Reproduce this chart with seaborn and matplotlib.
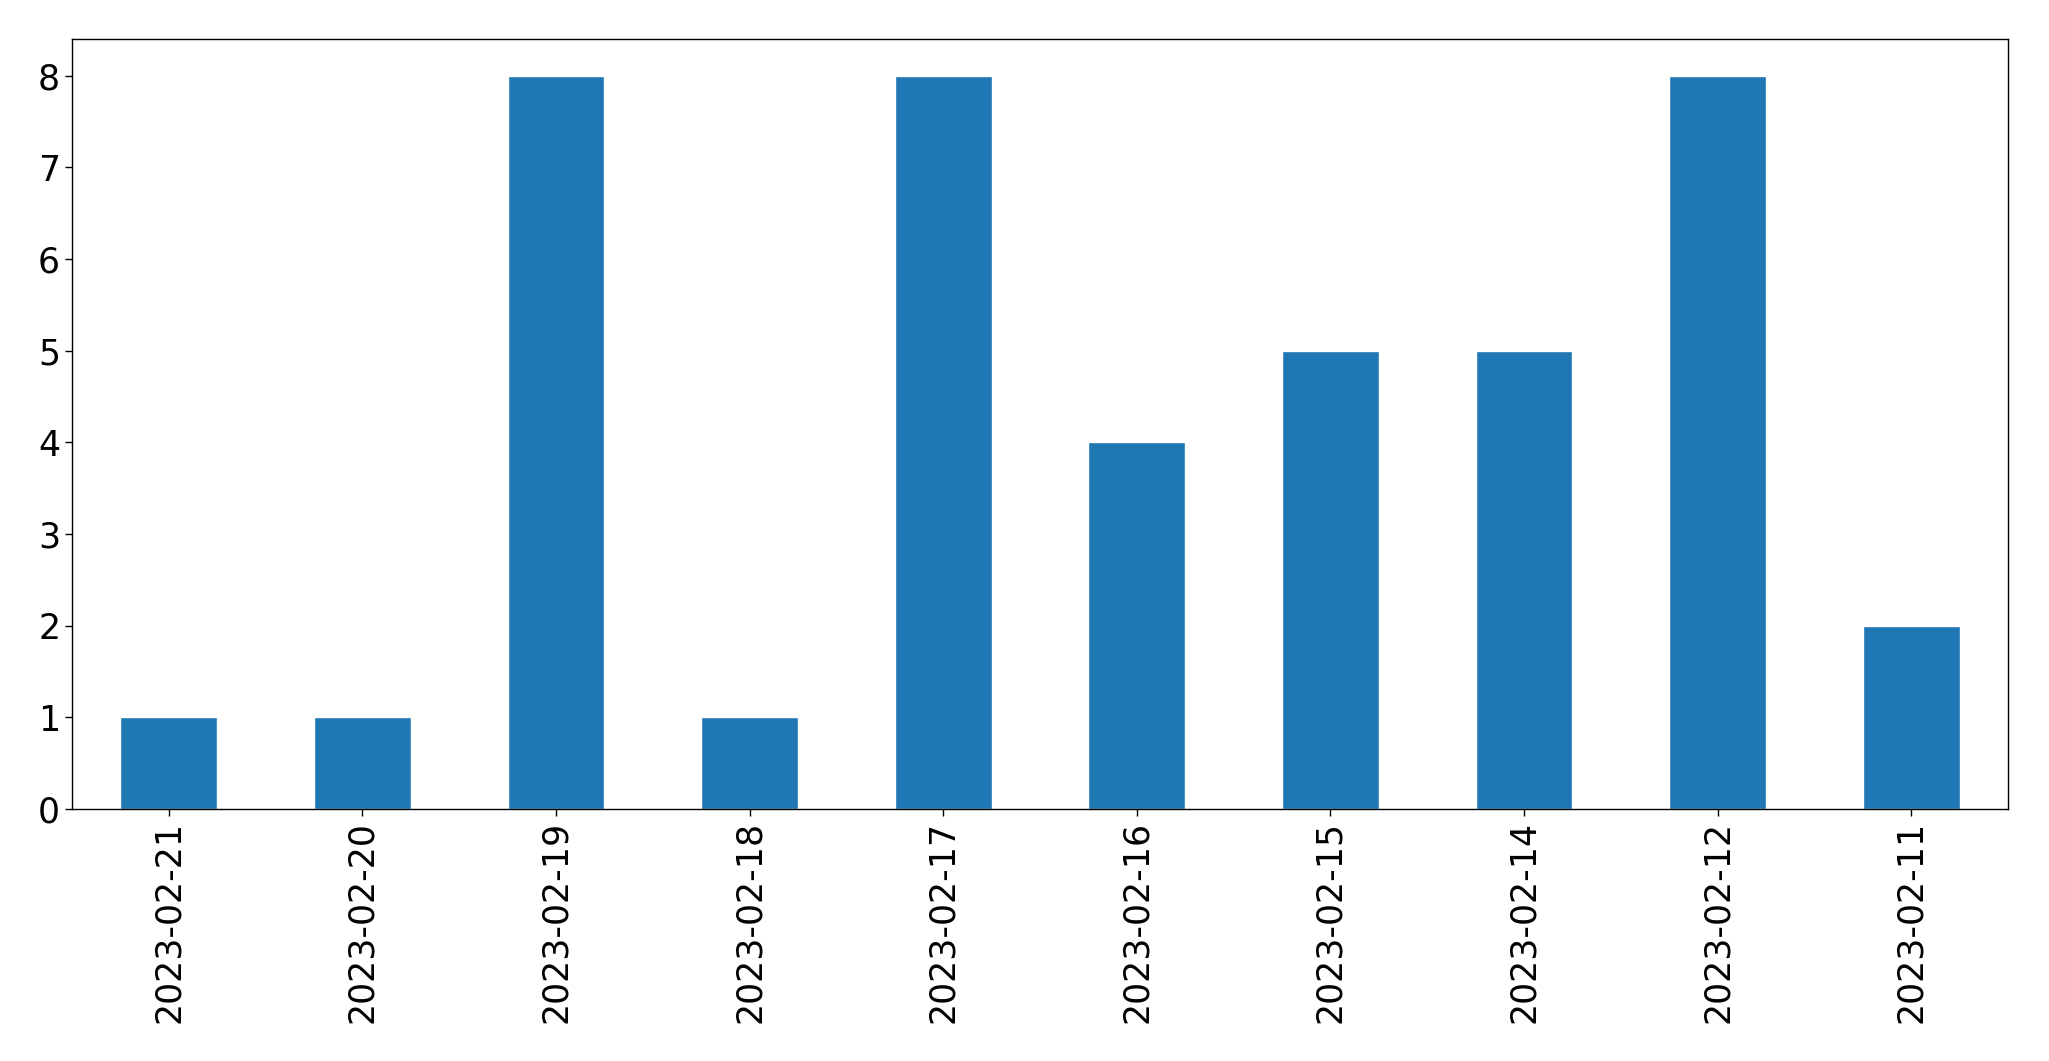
import matplotlib
matplotlib.use("Agg")
import matplotlib.pyplot as plt
import seaborn as sns
import pandas as pd

dates = ["2023-02-21", "2023-02-20", "2023-02-19", "2023-02-18", "2023-02-17",
         "2023-02-16", "2023-02-15", "2023-02-14", "2023-02-12", "2023-02-11"]
counts = [1, 1, 8, 1, 8, 4, 5, 5, 8, 2]

df = pd.DataFrame({"date": dates, "count": counts})

sns.set_style("ticks")
plt.rcParams['font.family'] = ['DejaVu Sans']
plt.rcParams['text.color'] = 'black'
plt.rcParams['xtick.color'] = 'black'
plt.rcParams['ytick.color'] = 'black'
plt.rcParams['axes.edgecolor'] = 'black'

fig, ax = plt.subplots(figsize=(20.49, 10.61), dpi=100)
fig.subplots_adjust(left=72/2049, right=2008/2049, top=1-39/1061, bottom=1-809/1061)

sns.barplot(data=df, x="date", y="count", order=dates, color="#1f77b4",
            saturation=1, width=0.5, ax=ax)
ax.set_xlim(-0.5, len(dates) - 0.5)
ax.set_ylim(0, max(counts) * 1.05)
ax.set_xlabel("")
ax.set_ylabel("")
ax.tick_params(axis="both", labelsize=25, length=5, width=1, color="black", labelcolor="black")
ax.tick_params(axis="x", rotation=90)
for s in ax.spines.values():
    s.set_visible(True)
    s.set_color("black")
    s.set_linewidth(1)

fig.savefig("out.png", dpi=100)
